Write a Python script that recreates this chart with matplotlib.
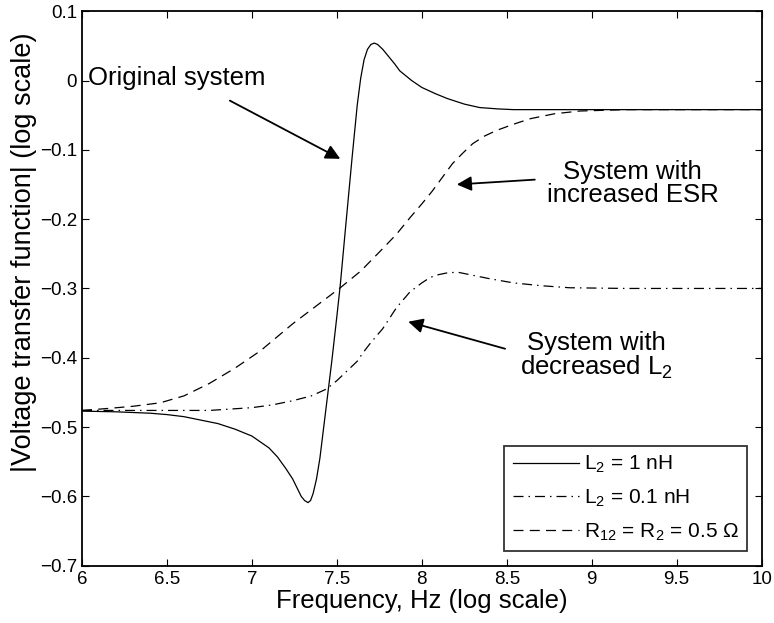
import numpy as np
import matplotlib.pyplot as plt

plt.rcParams['font.family'] = ['Liberation Sans', 'DejaVu Sans']
plt.rcParams['mathtext.fontset'] = 'custom'
plt.rcParams['mathtext.rm'] = 'Liberation Sans'
plt.rcParams['mathtext.it'] = 'Liberation Sans'

# data (log10 frequency, log10 |H|)
x_orig = [6.0, 6.2, 6.4, 6.5, 6.6, 6.8, 6.9, 7.0, 7.1, 7.15, 7.2, 7.24, 7.27, 7.29,
          7.31, 7.33, 7.345, 7.36, 7.38, 7.40, 7.42, 7.44, 7.47, 7.50, 7.52, 7.55,
          7.59, 7.62, 7.64, 7.66, 7.68, 7.70, 7.72, 7.74, 7.77, 7.80, 7.84, 7.87,
          7.94, 8.0, 8.08, 8.15, 8.25, 8.34, 8.45, 8.54, 8.7, 9.0, 9.5, 10.0]
y_orig = [-0.477, -0.478, -0.480, -0.482, -0.485, -0.495, -0.503, -0.513, -0.530,
          -0.543, -0.560, -0.575, -0.590, -0.600, -0.606, -0.609, -0.606, -0.596,
          -0.575, -0.545, -0.505, -0.465, -0.405, -0.34, -0.295, -0.215, -0.11,
          -0.035, 0.003, 0.030, 0.045, 0.052, 0.054, 0.052, 0.045, 0.036, 0.024,
          0.014, 0.000, -0.010, -0.019, -0.026, -0.034, -0.039, -0.041, -0.042,
          -0.042, -0.042, -0.042, -0.042]

x_l2 = [6.0, 6.3, 6.5, 6.75, 7.0, 7.12, 7.24, 7.35, 7.44, 7.50, 7.56, 7.62, 7.65,
        7.70, 7.77, 7.85, 7.93, 8.0, 8.05, 8.1, 8.16, 8.22, 8.28, 8.4, 8.54,
        8.7, 8.87, 9.2, 9.6, 10.0]
y_l2 = [-0.476, -0.476, -0.476, -0.476, -0.472, -0.468, -0.462, -0.455, -0.445,
        -0.433, -0.419, -0.405, -0.394, -0.378, -0.358, -0.328, -0.305, -0.292,
        -0.284, -0.280, -0.277, -0.277, -0.280, -0.286, -0.292, -0.296, -0.299,
        -0.300, -0.300, -0.300]

x_esr = [6.0, 6.16, 6.3, 6.46, 6.6, 6.75, 6.9, 7.05, 7.24, 7.38, 7.52, 7.64, 7.76,
         7.85, 7.93, 8.0, 8.06, 8.12, 8.18, 8.24, 8.30, 8.37, 8.44, 8.54, 8.64,
         8.78, 8.93, 9.2, 9.6, 10.0]
y_esr = [-0.476, -0.473, -0.470, -0.465, -0.455, -0.437, -0.415, -0.390, -0.351,
         -0.325, -0.299, -0.275, -0.245, -0.222, -0.198, -0.178, -0.160, -0.140,
         -0.120, -0.105, -0.091, -0.080, -0.072, -0.063, -0.055, -0.048, -0.044,
         -0.042, -0.042, -0.042]

xticks = [6, 6.5, 7, 7.5, 8, 8.5, 9, 9.5, 10]
yticks = [-0.7, -0.6, -0.5, -0.4, -0.3, -0.2, -0.1, 0, 0.1]

fig = plt.figure(figsize=(7.74, 6.23), dpi=100)
ax = fig.add_axes([0.106, 0.092, 0.878, 0.89])

lw = 0.9
ax.plot(x_orig, y_orig, color='black', lw=lw, label=r'L$_\mathregular{2}$ = 1 nH')
ax.plot(x_l2, y_l2, color='black', lw=lw, dashes=(8, 4, 1.2, 4),
        label=r'L$_\mathregular{2}$ = 0.1 nH')
ax.plot(x_esr, y_esr, color='black', lw=lw, dashes=(8, 5),
        label=r'R$_\mathregular{12}$ = R$_\mathregular{2}$ = 0.5 Ω')

ax.set_xlim(6, 10)
ax.set_ylim(-0.7, 0.1)
ax.set_xticks(xticks)
ax.set_xticklabels(['6', '6.5', '7', '7.5', '8', '8.5', '9', '9.5', '10'])
ax.set_yticks(yticks)
ax.set_yticklabels(['\u22120.7', '\u22120.6', '\u22120.5', '\u22120.4', '\u22120.3',
                    '\u22120.2', '\u22120.1', '0', '0.1'])
ax.tick_params(direction='in', top=True, right=True, length=5, width=0.8,
               labelsize=13.5)
for s in ax.spines.values():
    s.set_linewidth(1.3)

ax.set_xlabel('Frequency, Hz (log scale)', fontsize=18.5, labelpad=1)
ax.set_ylabel('|Voltage transfer function| (log scale)', fontsize=19.5)
ax.yaxis.set_label_coords(-0.067, 0.565)

arrow = dict(arrowstyle='-|>', color='black', lw=1.3, mutation_scale=22,
             shrinkA=0, shrinkB=0)
ax.text(6.56, 0.003, 'Original system', fontsize=18.5, ha='center', va='center')
ax.annotate('', xy=(7.52, -0.113), xytext=(6.87, -0.029), arrowprops=arrow)
ax.annotate('', xy=(8.206, -0.150), xytext=(8.665, -0.143), arrowprops=arrow)
ax.text(9.24, -0.148, 'System with\nincreased ESR', fontsize=18.5, ha='center',
        va='center', linespacing=0.95)
ax.annotate('', xy=(7.92, -0.348), xytext=(8.49, -0.387), arrowprops=arrow)
ax.text(9.03, -0.398, 'System with\ndecreased L$_2$', fontsize=18.5, ha='center',
        va='center', linespacing=0.95)

leg = ax.legend(loc='lower right', fontsize=15, frameon=True, fancybox=False,
                edgecolor='black', handlelength=3.2, handletextpad=0.2,
                borderaxespad=0.7, labelspacing=0.6, borderpad=0.4)
leg.get_frame().set_linewidth(1.3)

plt.savefig('out.png', dpi=100)
